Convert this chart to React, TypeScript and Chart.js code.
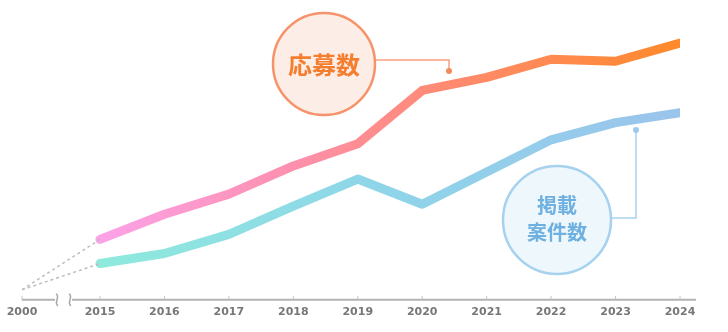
import React, { useEffect, useRef } from "react";
import { Chart, registerables } from "chart.js";

Chart.register(...registerables);

// ---- data ----
const startYear = "2000";
const years = ["2015", "2016", "2017", "2018", "2019", "2020", "2021", "2022", "2023", "2024"];
const applications = [30, 42.5, 52.5, 66.5, 77.5, 104, 110.5, 119.5, 118.5, 127.5];
const listings = [18, 23, 32.5, 46.5, 60, 47.5, 63.5, 79.5, 88, 93];
const startValue = 5;
const applicationsLabel = "応募数";
const listingsLabel = ["掲載", "案件数"];

// scale config: distance (in year slots) between 2000 and 2015 after the axis break
const BREAK_GAP = 1.21;
const Y_MAX = 140;

const W = 728;
const H = 332;

function gradientFor(chart: any, stops: [number, string][]) {
  const area = chart.chartArea;
  if (!area) return stops[0][1];
  const xs = chart.scales.x;
  const g = chart.ctx.createLinearGradient(
    xs.getPixelForValue(0), 0, xs.getPixelForValue(years.length - 1), 0
  );
  stops.forEach(([o, c]) => g.addColorStop(o, c));
  return g;
}

const decorPlugin = {
  id: "decor",
  beforeDatasetsDraw(chart: any) {
    const { ctx } = chart;
    const xs = chart.scales.x;
    const base = chart.chartArea.bottom;
    ctx.save();
    ctx.strokeStyle = "#b3b3b3";
    ctx.lineWidth = 2;
    ctx.lineCap = "butt";
    const x0 = xs.getPixelForValue(-BREAK_GAP);
    const xEnd = xs.getPixelForValue(years.length - 1) + 16;
    const b1 = x0 + 35;
    const b2 = x0 + 48;
    ctx.beginPath();
    ctx.moveTo(x0, base);
    ctx.lineTo(b1 - 2, base);
    ctx.moveTo(b2 + 2, base);
    ctx.lineTo(xEnd, base);
    ctx.stroke();
    // break squiggles
    ctx.lineWidth = 1.5;
    ctx.strokeStyle = "#a8a8a8";
    [b1, b2].forEach((bx) => {
      ctx.beginPath();
      ctx.moveTo(bx - 1, base - 6);
      ctx.bezierCurveTo(bx + 4, base - 3, bx - 4, base + 3, bx + 1, base + 6);
      ctx.stroke();
    });
    // tick marks
    ctx.lineWidth = 1;
    ctx.strokeStyle = "#c4c4c4";
    const tickVals = [-BREAK_GAP, ...years.map((_, i) => i)];
    tickVals.forEach((v) => {
      const px = xs.getPixelForValue(v);
      ctx.beginPath();
      ctx.moveTo(px, base - 4);
      ctx.lineTo(px, base);
      ctx.stroke();
    });
    ctx.restore();
  },
  afterDatasetsDraw(chart: any) {
    const { ctx } = chart;
    ctx.save();
    // orange bubble
    const oc = { x: 324, y: 64, r: 51 };
    ctx.strokeStyle = "#f7a17e";
    ctx.lineWidth = 1.5;
    ctx.beginPath();
    ctx.moveTo(oc.x + oc.r, 60);
    ctx.lineTo(449, 60);
    ctx.lineTo(449, 70);
    ctx.stroke();
    ctx.fillStyle = "#f28a5c";
    ctx.beginPath();
    ctx.arc(449, 71, 3, 0, Math.PI * 2);
    ctx.fill();
    ctx.beginPath();
    ctx.arc(oc.x, oc.y, oc.r, 0, Math.PI * 2);
    ctx.fillStyle = "#fdede7";
    ctx.fill();
    ctx.lineWidth = 2.5;
    ctx.strokeStyle = "#f7936a";
    ctx.stroke();
    ctx.fillStyle = "#f57e2e";
    ctx.font = "bold 24px 'Noto Sans CJK JP'";
    ctx.textAlign = "center";
    ctx.textBaseline = "middle";
    ctx.fillText(applicationsLabel, oc.x, oc.y + 1);

    // blue bubble
    const bc = { x: 557, y: 220, r: 54 };
    ctx.strokeStyle = "#a9d2ee";
    ctx.lineWidth = 1.5;
    ctx.beginPath();
    ctx.moveTo(bc.x + bc.r, 218);
    ctx.lineTo(636, 218);
    ctx.lineTo(636, 131);
    ctx.stroke();
    ctx.fillStyle = "#9ccaec";
    ctx.beginPath();
    ctx.arc(636, 130, 3, 0, Math.PI * 2);
    ctx.fill();
    ctx.beginPath();
    ctx.arc(bc.x, bc.y, bc.r, 0, Math.PI * 2);
    ctx.fillStyle = "#eef8fc";
    ctx.fill();
    ctx.lineWidth = 2.5;
    ctx.strokeStyle = "#a6d1ef";
    ctx.stroke();
    ctx.fillStyle = "#6eb0df";
    ctx.font = "bold 20px 'Noto Sans CJK JP'";
    ctx.fillText(listingsLabel[0], bc.x, 205);
    ctx.fillText(listingsLabel[1], bc.x, 232);
    ctx.restore();
  },
};

export default function App() {
  const ref = useRef<HTMLCanvasElement>(null);
  useEffect(() => {
    document.body.style.margin = "0";
    const canvas = ref.current!;
    const chart = new Chart(canvas, {
      type: "line",
      data: {
        datasets: [
          {
            data: [{ x: -BREAK_GAP, y: startValue }, { x: 0, y: applications[0] }],
            borderColor: "#bdbdbd",
            borderWidth: 1.5,
            borderDash: [3, 3],
            pointRadius: 0,
            fill: false,
          },
          {
            data: [{ x: -BREAK_GAP, y: startValue }, { x: 0, y: listings[0] }],
            borderColor: "#bdbdbd",
            borderWidth: 1.5,
            borderDash: [3, 3],
            pointRadius: 0,
            fill: false,
          },
          {
            label: applicationsLabel,
            data: applications.map((v, i) => ({ x: i, y: v })),
            borderColor: (c: any) =>
              gradientFor(c.chart, [
                [0, "#fca2e8"],
                [0.33, "#fd90ae"],
                [0.6, "#ff8a70"],
                [1, "#ff8a2a"],
              ]),
            borderWidth: 9,
            borderCapStyle: "round",
            borderJoinStyle: "round",
            pointRadius: 0,
            tension: 0,
            fill: false,
          },
          {
            label: listingsLabel.join(""),
            data: listings.map((v, i) => ({ x: i, y: v })),
            borderColor: (c: any) =>
              gradientFor(c.chart, [
                [0, "#8eeadd"],
                [0.45, "#8ed6e8"],
                [1, "#9ac4ec"],
              ]),
            borderWidth: 9,
            borderCapStyle: "round",
            borderJoinStyle: "round",
            pointRadius: 0,
            tension: 0,
            fill: false,
          },
        ],
      },
      options: {
        responsive: false,
        animation: false,
        layout: { padding: { left: 22, right: 48, top: 18, bottom: 7 } },
        plugins: { legend: { display: false }, tooltip: { enabled: false } },
        scales: {
          x: {
            type: "linear",
            min: -BREAK_GAP,
            max: years.length - 1,
            offset: false,
            grid: { display: false, drawTicks: false },
            border: { display: false },
            afterBuildTicks: (scale: any) => {
              scale.ticks = [-BREAK_GAP, ...years.map((_, i) => i)].map((v) => ({ value: v }));
            },
            ticks: {
              autoSkip: false,
              maxRotation: 0,
              padding: 6,
              color: "#777777",
              font: { family: "'DejaVu Sans'", size: 11, weight: "bold" },
              callback: (v: any) => {
                const n = Number(v);
                if (n < 0) return startYear;
                return years[Math.round(n)];
              },
            },
          },
          y: {
            display: false,
            min: 0,
            max: Y_MAX,
          },
        },
      },
      plugins: [decorPlugin],
    } as any);
    return () => chart.destroy();
  }, []);
  return (
    <div style={{ width: W, height: H, background: "#fff" }}>
      <canvas ref={ref} width={W} height={H} style={{ display: "block" }} />
    </div>
  );
}
